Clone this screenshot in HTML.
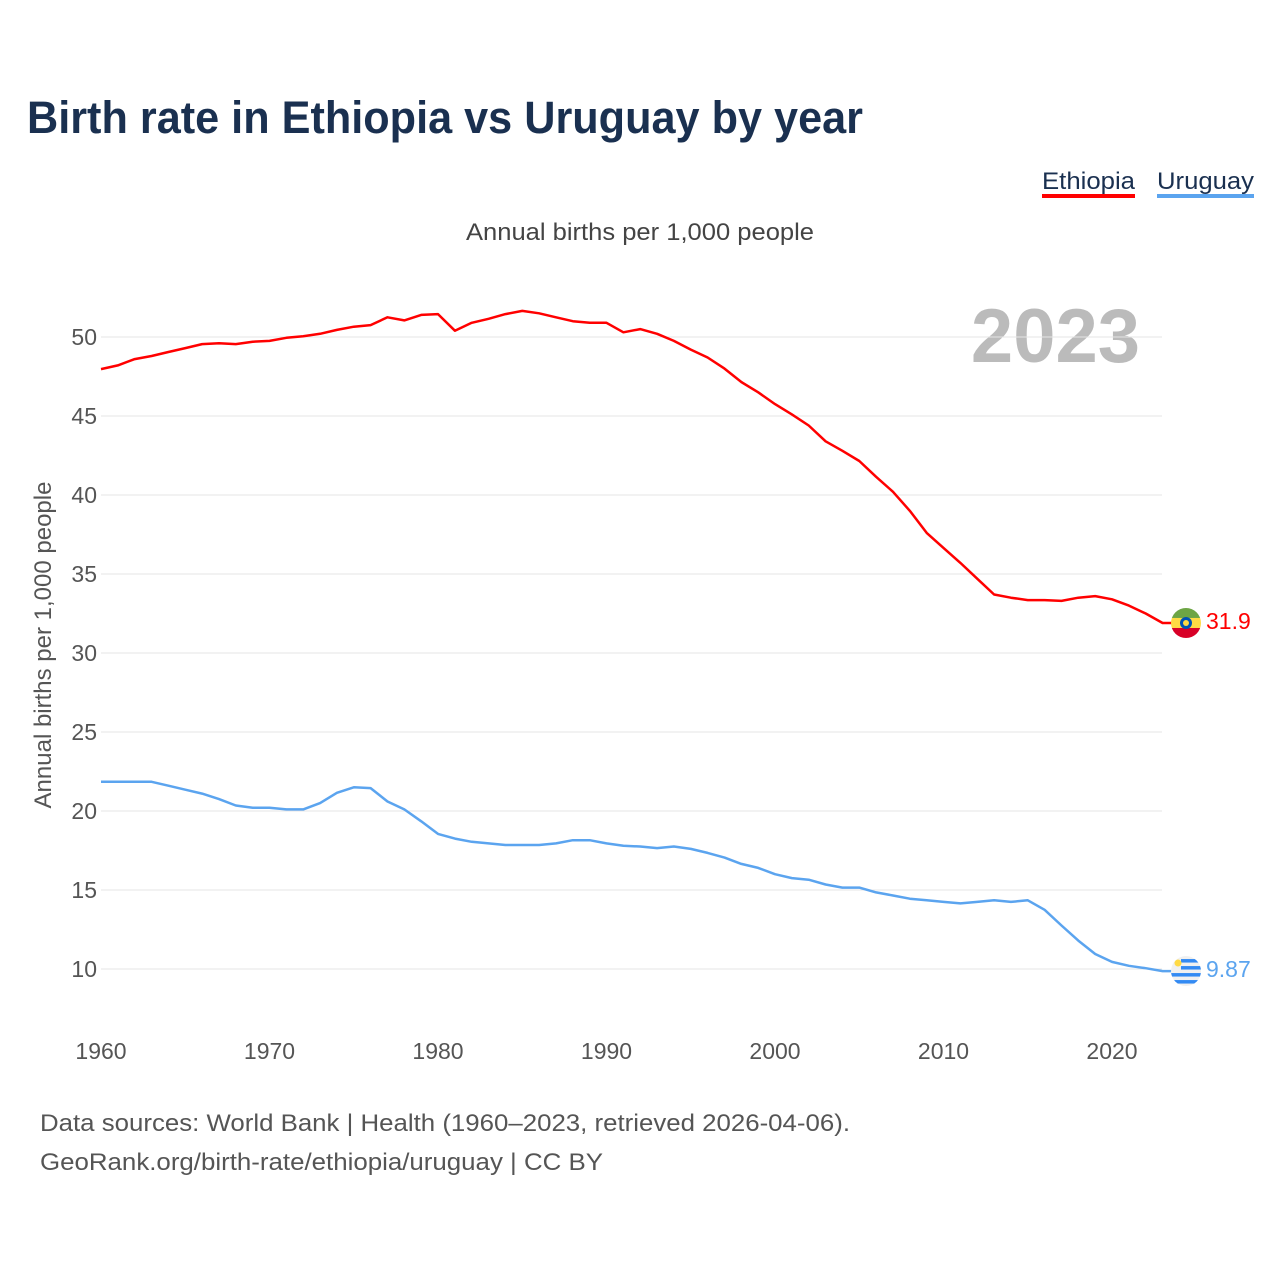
<!DOCTYPE html>
<html><head><meta charset="utf-8"><style>
body{margin:0;background:#fff;width:1280px;height:1280px;overflow:hidden;font-family:"Liberation Sans",sans-serif}
</style></head><body>
<svg id="chart" width="1280" height="1280" xmlns="http://www.w3.org/2000/svg" font-family="Liberation Sans, sans-serif">
<text x="27" y="133" font-size="45" font-weight="bold" fill="#1a3050" textLength="836" lengthAdjust="spacingAndGlyphs">Birth rate in Ethiopia vs Uruguay by year</text>
<g><text x="1042" y="189" font-size="24" fill="#1a3050" textLength="93" lengthAdjust="spacingAndGlyphs">Ethiopia</text><rect x="1042" y="194" width="93" height="4" fill="#ff0000"/></g>
<g><text x="1157" y="189" font-size="24" fill="#1a3050" textLength="97" lengthAdjust="spacingAndGlyphs">Uruguay</text><rect x="1157" y="194" width="97" height="4" fill="#5ba4ef"/></g>
<text x="466" y="240" font-size="24" fill="#444" textLength="348" lengthAdjust="spacingAndGlyphs">Annual births per 1,000 people</text>
<text x="1140" y="362" font-size="76" font-weight="bold" fill="#bbb" text-anchor="end">2023</text>
<text transform="translate(51,645) rotate(-90)" font-size="24" fill="#555" text-anchor="middle">Annual births per 1,000 people</text>
<g id="grid"></g><g id="lines"></g>
<text x="40" y="1131" font-size="24" fill="#555" textLength="810" lengthAdjust="spacingAndGlyphs">Data sources: World Bank | Health (1960–2023, retrieved 2026-04-06).</text>
<text x="40" y="1170" font-size="24" fill="#555" textLength="563" lengthAdjust="spacingAndGlyphs">GeoRank.org/birth-rate/ethiopia/uruguay | CC BY</text>
</svg>
<script>
const years=[];for(let y=1960;y<=2023;y++)years.push(y);
const ethiopia=[47.97,48.2,48.6,48.8,49.05,49.3,49.55,49.6,49.55,49.7,49.75,49.95,50.05,50.2,50.45,50.65,50.75,51.25,51.05,51.4,51.45,50.4,50.9,51.15,51.45,51.65,51.5,51.25,51.0,50.9,50.9,50.3,50.5,50.2,49.75,49.2,48.7,48.0,47.15,46.5,45.75,45.1,44.4,43.4,42.8,42.15,41.15,40.2,39.0,37.6,36.65,35.7,34.7,33.7,33.5,33.35,33.35,33.3,33.5,33.6,33.4,33.0,32.5,31.9];
const uruguay=[21.85,21.85,21.85,21.85,21.6,21.35,21.1,20.75,20.35,20.2,20.2,20.1,20.1,20.5,21.15,21.5,21.45,20.6,20.1,19.35,18.55,18.25,18.05,17.95,17.85,17.85,17.85,17.95,18.15,18.15,17.95,17.8,17.75,17.65,17.75,17.6,17.35,17.05,16.65,16.4,16.0,15.75,15.65,15.35,15.15,15.15,14.85,14.65,14.45,14.35,14.25,14.15,14.25,14.35,14.25,14.35,13.75,12.75,11.8,10.95,10.45,10.2,10.05,9.87];
const yTicks=[10,15,20,25,30,35,40,45,50];
const xTicks=[1960,1970,1980,1990,2000,2010,2020];
const NS="http://www.w3.org/2000/svg";
const X=y=>101+(y-1960)*(1011/60);
const Y=v=>969-(v-10)*15.8;
function mk(t,a,p){const e=document.createElementNS(NS,t);for(const k in a)e.setAttribute(k,a[k]);p.appendChild(e);return e;}
const grid=document.getElementById('grid'),lines=document.getElementById('lines');
yTicks.forEach(v=>{
 const l=mk('line',{x1:101,x2:1162,y1:Y(v),y2:Y(v),stroke:'#e6e6e6','stroke-width':1},grid);
 
 
 const t=mk('text',{x:97,y:Y(v)+8,'font-size':23,fill:'#555','text-anchor':'end'},grid);t.textContent=v;
 
 
});
xTicks.forEach(v=>{
 const t=mk('text',{x:X(v),y:1059,'font-size':23,fill:'#555','text-anchor':'middle'},grid);t.textContent=v;
 
 
});
function series(data,color,name,label){
 let d=data.map((v,i)=>(i?'L':'M')+X(years[i]).toFixed(1)+','+Y(v).toFixed(1)).join('');
 d+='L1186,'+Y(data[data.length-1]).toFixed(1);
 const p=mk('path',{d:d,fill:'none',stroke:color,'stroke-width':2.5,'stroke-linejoin':'round'},lines);
 
 
 const yy=Y(data[data.length-1]);
 const g=mk('g',{},lines);
 
 
 const cid='c'+name;
 const cp=mk('clipPath',{id:cid},g);mk('circle',{cx:1186,cy:yy,r:15},cp);
 const gg=mk('g',{'clip-path':'url(#'+cid+')'},g);
 if(name==='ethiopia'){
  mk('rect',{x:1171,y:yy-15,width:30,height:10,fill:'#6da544'},gg);
  mk('rect',{x:1171,y:yy-5,width:30,height:10,fill:'#ffda44'},gg);
  mk('rect',{x:1171,y:yy+5,width:30,height:10,fill:'#d80027'},gg);
  mk('circle',{cx:1186,cy:yy,r:6,fill:'#0052b4'},gg);
  mk('circle',{cx:1186,cy:yy,r:3,fill:'#ffda44'},gg);
 }else{
  mk('rect',{x:1171,y:yy-15,width:30,height:30,fill:'#f0f0f0'},gg);
  for(let k=0;k<4;k++)mk('rect',{x:k<2?1181:1171,y:yy-12+k*7,width:30,height:3.5,fill:'#338af3'},gg);
  mk('circle',{cx:1178,cy:yy-8,r:3.5,fill:'#ffda44'},gg);
 }
 const t=mk('text',{x:1206,y:yy+6,'font-size':23,fill:color},lines);t.textContent=label;
 
 
}
series(ethiopia,'#ff0000','ethiopia','31.9');
series(uruguay,'#5ba4ef','uruguay','9.87');
</script>
</body></html>
